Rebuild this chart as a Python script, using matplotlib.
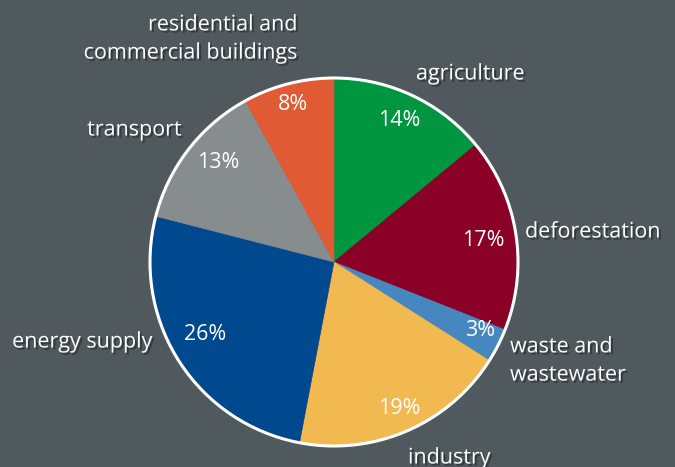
import matplotlib.pyplot as plt
import matplotlib.patheffects as pe
from matplotlib.patches import Circle

# data
sectors = ["agriculture", "deforestation", "waste and\nwastewater", "industry",
           "energy supply", "transport", "residential and\ncommercial buildings"]
shares = [14, 17, 3, 19, 26, 13, 8]
colors = ["#00963f", "#8a0026", "#4787bf", "#f1b950", "#00498f", "#878c8e", "#e05a34"]

# layout (pixel coords, y measured from top)
W, H = 675, 467
center = (334, H - 262)
radius = 184
pct_pos = [(399, 121), (483, 240), (480, 330), (399, 408), (205, 335), (218, 163), (293, 105)]
lab_pos = [(416, 74, "left"), (525, 232, "left"), (510, 361, "left"), (408, 458, "left"),
           (153, 342, "right"), (182, 130, "right"), (298, 39, "right")]

bg = "#4f595e"
fig = plt.figure(figsize=(W / 100, H / 100), dpi=100, facecolor=bg)
ax = fig.add_axes([0, 0, 1, 1])
ax.set_facecolor(bg)

wedges, _ = ax.pie(shares, colors=colors, startangle=90, counterclock=False,
                   center=center, radius=radius, frame=True)
for w, c in zip(wedges, colors):
    w.set_edgecolor(c)
    w.set_linewidth(0.4)
ax.set_xlim(0, W)
ax.set_ylim(0, H)
ax.set_aspect("equal")
ax.axis("off")
ax.add_patch(Circle(center, radius, fill=False, edgecolor="white", lw=2.2, zorder=5))

shadow = [pe.SimplePatchShadow(offset=(1.5, -1.5), shadow_rgbFace="black", alpha=0.35), pe.Normal()]
font = ["Open Sans", "DejaVu Sans"]

for v, (x, y) in zip(shares, pct_pos):
    ax.text(x, H - y, f"{v}%", color="white", fontsize=15.5, family=font,
            ha="center", va="center", zorder=6)

for name, (x, y, ha) in zip(sectors, lab_pos):
    ax.text(x, H - y, name, color="white", fontsize=15.5, family=font,
            ha=ha, va="center", linespacing=1.45, path_effects=shadow, zorder=6)

plt.savefig("out.png", dpi=100, facecolor=bg)
